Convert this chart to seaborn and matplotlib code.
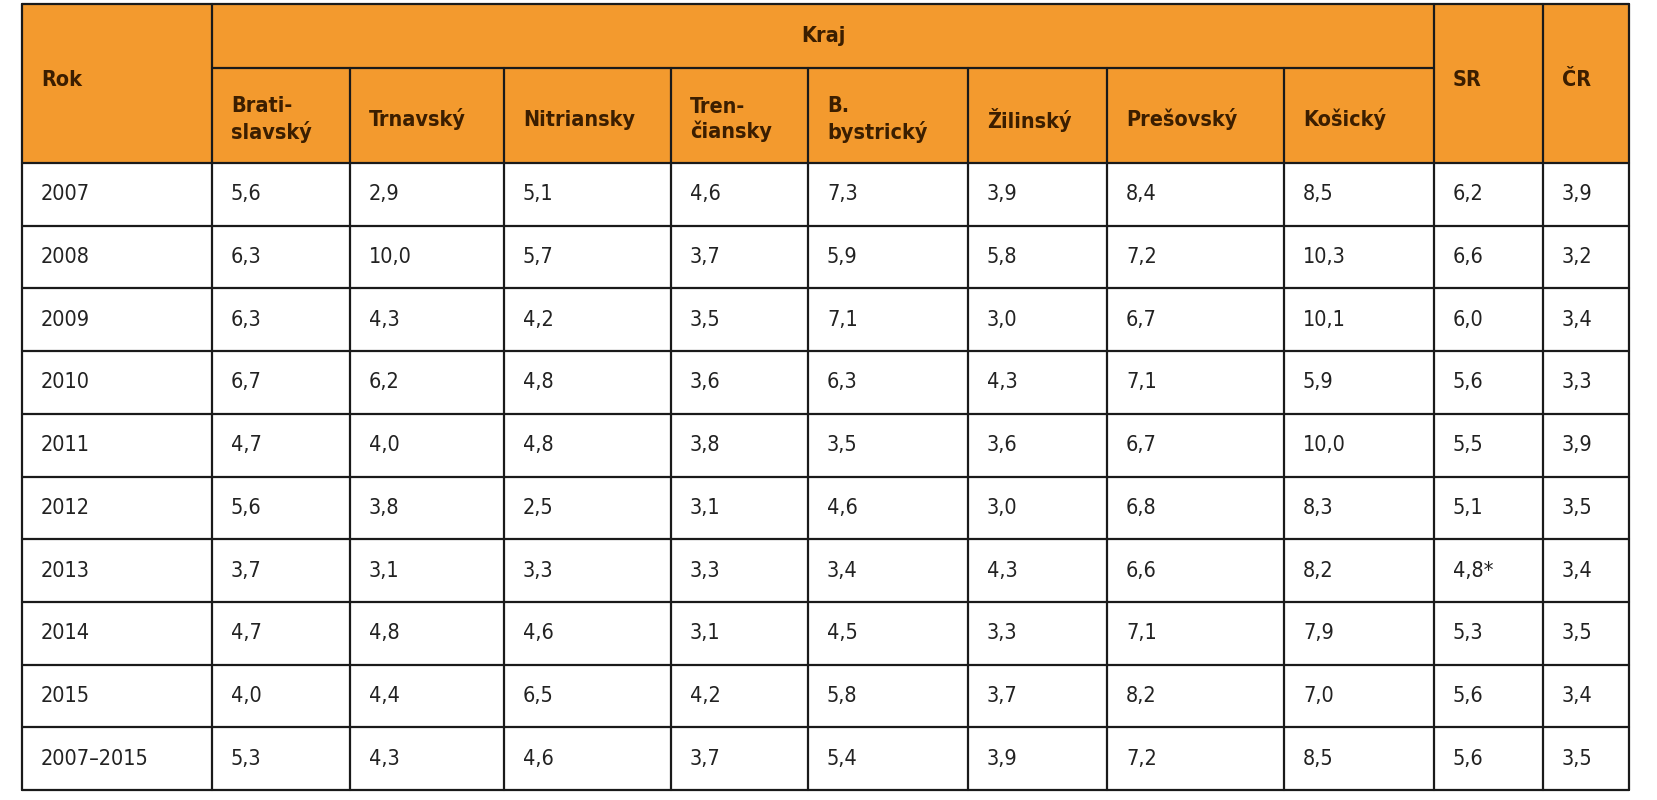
import matplotlib
matplotlib.use("Agg")
import matplotlib.pyplot as plt
import seaborn as sns
from matplotlib.patches import Rectangle

sns.set_theme(style="white")
plt.rcParams['font.family'] = ['DejaVu Sans']
plt.rcParams['font.stretch'] = 'condensed'

years = ["2007", "2008", "2009", "2010", "2011", "2012", "2013", "2014", "2015", "2007–2015"]
regions = ["Brati-\nslavský", "Trnavský", "Nitriansky", "Tren-\nčiansky", "B.\nbystrický",
           "Žilinský", "Prešovský", "Košický"]
bratislavsky = ["5,6", "6,3", "6,3", "6,7", "4,7", "5,6", "3,7", "4,7", "4,0", "5,3"]
trnavsky = ["2,9", "10,0", "4,3", "6,2", "4,0", "3,8", "3,1", "4,8", "4,4", "4,3"]
nitriansky = ["5,1", "5,7", "4,2", "4,8", "4,8", "2,5", "3,3", "4,6", "6,5", "4,6"]
trenciansky = ["4,6", "3,7", "3,5", "3,6", "3,8", "3,1", "3,3", "3,1", "4,2", "3,7"]
bbystricky = ["7,3", "5,9", "7,1", "6,3", "3,5", "4,6", "3,4", "4,5", "5,8", "5,4"]
zilinsky = ["3,9", "5,8", "3,0", "4,3", "3,6", "3,0", "4,3", "3,3", "3,7", "3,9"]
presovsky = ["8,4", "7,2", "6,7", "7,1", "6,7", "6,8", "6,6", "7,1", "8,2", "7,2"]
kosicky = ["8,5", "10,3", "10,1", "5,9", "10,0", "8,3", "8,2", "7,9", "7,0", "8,5"]
sr = ["6,2", "6,6", "6,0", "5,6", "5,5", "5,1", "4,8*", "5,3", "5,6", "5,6"]
cr = ["3,9", "3,2", "3,4", "3,3", "3,9", "3,5", "3,4", "3,5", "3,4", "3,5"]

columns = [years, bratislavsky, trnavsky, nitriansky, trenciansky, bbystricky,
           zilinsky, presovsky, kosicky, sr, cr]

W, H = 1658, 800
xb = [22, 212, 350, 504, 671, 808, 968, 1107, 1284, 1434, 1543, 1629]
top, mid, hbot, bot = 4, 68, 163, 790
rowh = (bot - hbot) / len(years)

orange = "#F39A2E"
dark = "#3B1E00"
fig = plt.figure(figsize=(W / 100, H / 100), dpi=100)
ax = fig.add_axes([0, 0, 1, 1])
ax.set_xlim(0, W)
ax.set_ylim(H, 0)
ax.axis("off")

ax.add_patch(Rectangle((xb[0], top), xb[-1] - xb[0], hbot - top, facecolor=orange, edgecolor="none"))
lw = 1.6
lc = "#1a1a1a"
ax.plot([xb[0], xb[-1]], [top, top], color=lc, lw=lw)
ax.plot([xb[1], xb[9]], [mid, mid], color=lc, lw=lw)
for i in range(len(years) + 1):
    y = hbot + i * rowh
    ax.plot([xb[0], xb[-1]], [y, y], color=lc, lw=lw)
for j, x in enumerate(xb):
    if 1 < j < 9:
        ax.plot([x, x], [mid, bot], color=lc, lw=lw)
    else:
        ax.plot([x, x], [top, bot], color=lc, lw=lw)

pad = 19
fs = 15.5
ax.text(xb[0] + pad, (top + hbot) / 2 - 4, "Rok", fontsize=fs, fontweight="bold", color=dark, va="center", ha="left")
ax.text((xb[1] + xb[9]) / 2, (top + mid) / 2, "Kraj", fontsize=fs, fontweight="bold", color=dark, va="center", ha="center")
for j, name in enumerate(regions):
    ax.text(xb[j + 1] + pad, (mid + hbot) / 2 + 4, name, fontsize=fs, fontweight="bold", color=dark,
            va="center", ha="left", linespacing=1.25)
ax.text(xb[9] + pad, (top + hbot) / 2 - 4, "SR", fontsize=fs, fontweight="bold", color=dark, va="center", ha="left")
ax.text(xb[10] + pad, (top + hbot) / 2 - 4, "ČR", fontsize=fs, fontweight="bold", color=dark, va="center", ha="left")

for j, col in enumerate(columns):
    for i, v in enumerate(col):
        ax.text(xb[j] + pad, hbot + (i + 0.5) * rowh, v, fontsize=fs, color="#222222", va="center", ha="left")

fig.savefig("out.png", dpi=100, facecolor="white")
